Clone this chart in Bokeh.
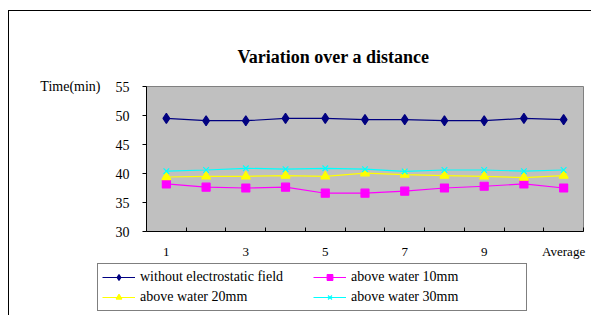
from bokeh.plotting import figure
from bokeh.layouts import column
from bokeh.models import (Range1d, FixedTicker, Legend, LegendItem, LinearAxis,
                          ColumnDataSource)
from bokeh.embed import file_html
from bokeh.resources import INLINE

categories = ["1", "2", "3", "4", "5", "6", "7", "8", "9", "10", "Average"]
label_every = 2
series_names = ["without electrostatic field", "above water 10mm",
                "above water 20mm", "above water 30mm"]
without_field = [49.5, 49.1, 49.1, 49.5, 49.5, 49.3, 49.3, 49.1, 49.1, 49.5, 49.3]
water_10mm = [38.2, 37.65, 37.5, 37.65, 36.6, 36.6, 36.95, 37.5, 37.8, 38.2, 37.5]
water_20mm = [39.4, 39.5, 39.5, 39.65, 39.5, 40.05, 39.8, 39.65, 39.5, 39.3, 39.65]
water_30mm = [40.4, 40.6, 40.9, 40.75, 40.9, 40.75, 40.35, 40.6, 40.6, 40.4, 40.6]
y_ticks = [30, 35, 40, 45, 50, 55]
title_text = "Variation over a distance"
y_title = "Time(min)"

FONT = "Liberation Serif"
xs = list(range(1, len(categories) + 1))

p = figure(width=582, height=251, output_backend="svg", toolbar_location=None,
           x_range=Range1d(0.5, len(categories) + 0.5),
           y_range=Range1d(y_ticks[0], y_ticks[-1]),
           min_border_left=137, min_border_right=8, min_border_top=75,
           min_border_bottom=31)
p.frame_align = False
p.background_fill_color = "#C0C0C0"
p.border_fill_color = "white"
p.outline_line_color = "#808080"
p.outline_line_width = 1
p.xgrid.visible = False
p.ygrid.visible = False

p.title.text = title_text
p.title.text_font = FONT
p.title.text_font_size = "18px"
p.title.text_font_style = "bold"
p.title.text_color = "black"
p.title.align = "left"
p.title.offset = 91
p.title.standoff = 40

# x axis
xa = p.xaxis[0]
xa.ticker = FixedTicker(ticks=xs[::label_every],
                        minor_ticks=[x + 0.5 for x in xs])
xa.major_label_overrides = {x: c for x, c in zip(xs, categories)}
xa.major_tick_line_color = None
xa.major_tick_in = 0
xa.major_tick_out = 0
xa.minor_tick_in = 4
xa.minor_tick_out = 0
xa.minor_tick_line_color = "black"
xa.axis_line_color = "black"
xa.major_label_text_font = FONT
xa.major_label_text_font_size = "13px"
xa.major_label_text_color = "black"
xa.major_label_standoff = 12

# y axis
ya = p.yaxis[0]
ya.ticker = FixedTicker(ticks=y_ticks)
ya.major_tick_in = 0
ya.major_tick_out = 4
ya.minor_tick_line_color = None
ya.axis_line_color = "black"
ya.major_label_text_font = FONT
ya.major_label_text_font_size = "14px"
ya.major_label_text_color = "black"
ya.major_label_standoff = 13

# "Time(min)" caption next to the top tick
cap = LinearAxis(ticker=FixedTicker(ticks=[y_ticks[-1]]),
                 major_label_overrides={y_ticks[-1]: y_title},
                 axis_line_color=None, major_tick_line_color=None,
                 minor_tick_line_color=None, major_tick_in=0, major_tick_out=0,
                 major_label_text_font=FONT, major_label_text_font_size="14px",
                 major_label_text_color="black", major_label_standoff=12)
p.add_layout(cap, "left")

colors = ["#000080", "#FF00FF", "#FFFF00", "#00FFFF"]
markers = ["diamond", "square", "triangle", "x"]
sizes = [10, 8, 9, 8]
legend_sizes = [8, 7, 8, 7]
values = [without_field, water_10mm, water_20mm, water_30mm]

# legend strip below the chart (its range keeps the series out of view)
pl = figure(width=582, height=53, output_backend="svg", toolbar_location=None,
            x_range=Range1d(0, 1), y_range=Range1d(0, 1),
            x_axis_type=None, y_axis_type=None,
            min_border_left=0, min_border_right=0, min_border_top=0,
            min_border_bottom=0)
pl.frame_align = False
pl.outline_line_color = None
pl.background_fill_color = "white"
pl.border_fill_color = "white"
pl.xgrid.visible = False
pl.ygrid.visible = False

items = []
for name, col, mk, sz, lsz, vals in zip(series_names, colors, markers, sizes,
                                        legend_sizes, values):
    src = ColumnDataSource(dict(x=xs, y=vals))
    p.line("x", "y", source=src, line_color=col, line_width=1.2)
    p.scatter("x", "y", source=src, marker=mk, size=sz,
              fill_color=col, line_color=col, line_width=1.2)
    ln = pl.line("x", "y", source=src, line_color=col, line_width=1.2)
    sc = pl.scatter("x", "y", source=src, marker=mk, size=lsz,
                    fill_color=col, line_color=col, line_width=1.2)
    items.append(LegendItem(label=name, renderers=[ln, sc]))

# two columns, filled row by row as in the reference
order = [0, 2, 1, 3]
legend = Legend(items=[items[i] for i in order], ncols=2, location=(88, 4),
                label_text_font=FONT, label_text_font_size="14px",
                label_text_color="black",
                glyph_width=33, glyph_height=14, label_standoff=5,
                label_width=171, label_height=18, padding=4, spacing=2,
                margin=0, border_line_color="black", border_line_width=1,
                background_fill_color="white", background_fill_alpha=1)
pl.add_layout(legend, "center")

layout = column(p, pl, spacing=0,
                styles={"border-left": "1px solid black",
                        "border-top": "1px solid black",
                        "margin-left": "8px", "margin-top": "10px"})

open("out.html", "w").write(file_html(layout, INLINE))
